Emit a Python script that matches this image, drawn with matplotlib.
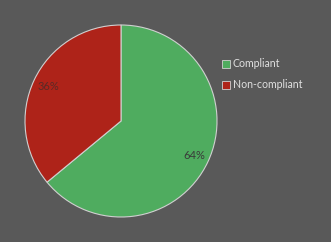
import matplotlib
matplotlib.use("Agg")
import matplotlib.pyplot as plt
from matplotlib.patches import Patch

plt.rcParams['font.family'] = ['Lato', 'DejaVu Sans']

categories = ["Compliant", "Non-compliant"]
values = [64, 36]
colors = ["#4fac5f", "#ae2319"]
bg = "#595959"

fig = plt.figure(figsize=(3.31, 2.42), dpi=100, facecolor=bg)
ax = fig.add_axes([25/331, 25/242, 192/331, 192/242])
ax.set_facecolor(bg)
wedges, texts, autotexts = ax.pie(values, colors=colors, startangle=90, counterclock=False,
                                  autopct="%d%%", pctdistance=0.84,
                                  wedgeprops=dict(edgecolor="#d0d0d0", linewidth=0.8),
                                  textprops=dict(fontsize=8, color="#3a3a3a"))
autotexts[1].set_color("#5a2a26")
ax.set_aspect("equal")
ax.set_xlim(-1.0, 1.0)
ax.set_ylim(-1.0, 1.0)

handles = [Patch(facecolor=c, edgecolor="#d0d0d0", linewidth=0.6) for c in colors]
fig.legend(handles, categories, loc="upper left", bbox_to_anchor=(215/331, 1 - 51/242),
           frameon=False, fontsize=7.6, labelcolor="#e0e0e0",
           handlelength=0.75, handleheight=0.75, handletextpad=0.25, labelspacing=0.95,
           borderpad=0.2)

fig.savefig("out.png", dpi=100, facecolor=bg)
